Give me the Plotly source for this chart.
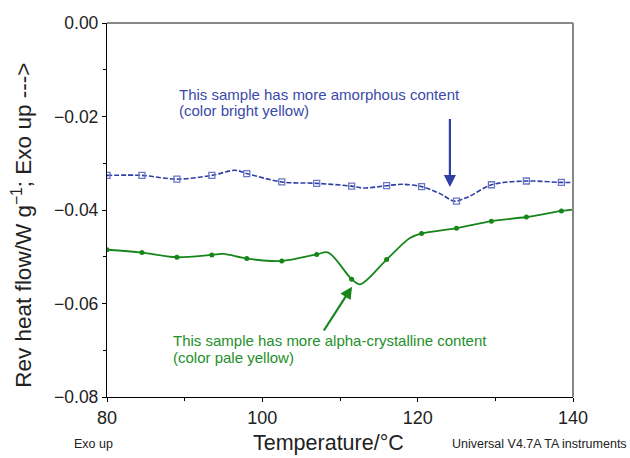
import plotly.graph_objects as go

# Marker temperatures (°C) shared by both scans
marker_temp = [80, 84.5, 89, 93.5, 98, 102.5, 107, 111.5, 116, 120.5, 125, 129.5, 134, 138.5]

# Reversing heat flow (W/g) at the marker temperatures
amorphous_flow = [-0.0326, -0.0326, -0.0334, -0.0326, -0.0322, -0.0340, -0.0343,
                  -0.0349, -0.0348, -0.0350, -0.0381, -0.0346, -0.0338, -0.0341]
crystalline_flow = [-0.0485, -0.0491, -0.0501, -0.0496, -0.0504, -0.0509, -0.0495,
                    -0.0548, -0.0506, -0.0450, -0.0439, -0.0424, -0.0415, -0.0402]

# Full traces (markers plus turning points of each curve)
amorphous_trace_t = [80, 84.5, 89, 93.5, 96.5, 98, 102.5, 107, 111.5, 113, 116, 118,
                     120.5, 123, 124.7, 126.5, 129.5, 134, 138.5, 140]
amorphous_trace_f = [-0.0326, -0.0326, -0.0334, -0.0326, -0.0315, -0.0322, -0.0340,
                     -0.0343, -0.0349, -0.0353, -0.0348, -0.0345, -0.0350, -0.0366,
                     -0.0381, -0.0372, -0.0346, -0.0338, -0.0341, -0.0341]
crystalline_trace_t = [80, 84.5, 89, 93.5, 95, 98, 102.5, 107, 108.5, 111.5, 112.6,
                       116, 119, 120.5, 125, 129.5, 134, 138.5, 140]
crystalline_trace_f = [-0.0485, -0.0491, -0.0501, -0.0496, -0.0494, -0.0504, -0.0509,
                       -0.0495, -0.0491, -0.0548, -0.0559, -0.0506, -0.0460, -0.0450,
                       -0.0439, -0.0424, -0.0415, -0.0402, -0.0399]

x_ticks = [80, 100, 120, 140]
y_ticks = [0.00, -0.02, -0.04, -0.06, -0.08]

BLUE = "#2f3fa3"
BLUE_MARK = "#6b78c8"
GREEN = "#17861a"
FONT = "Liberation Sans, Arial, sans-serif"


def note(x, y, text, color):
    return dict(x=x, y=y, xref="x", yref="y", xanchor="left", yanchor="middle",
                align="left", showarrow=False, text=text,
                font=dict(family=FONT, size=15, color=color))


def arrow(x, y, ax, ay, color):
    return dict(x=x, y=y, ax=ax, ay=ay, xref="x", yref="y", axref="x", ayref="y",
                showarrow=True, arrowhead=2, arrowsize=1.1, arrowwidth=2.2,
                arrowcolor=color, text="")


fig = go.Figure()

fig.add_trace(go.Scatter(x=amorphous_trace_t, y=amorphous_trace_f, mode="lines",
                         line=dict(color=BLUE, width=1.6, dash="5px,2px", shape="spline",
                                   smoothing=0.9),
                         hoverinfo="skip"))
fig.add_trace(go.Scatter(x=marker_temp, y=amorphous_flow, mode="markers",
                         marker=dict(symbol="square-open", size=6, color=BLUE_MARK,
                                     line=dict(width=1.3))))
fig.add_trace(go.Scatter(x=crystalline_trace_t, y=crystalline_trace_f, mode="lines",
                         line=dict(color=GREEN, width=1.8, shape="spline", smoothing=0.9),
                         hoverinfo="skip"))
fig.add_trace(go.Scatter(x=marker_temp, y=crystalline_flow, mode="markers",
                         marker=dict(symbol="circle", size=5, color=GREEN)))

annotations = [
    note(89.0, -0.01524, "This sample has more amorphous content", "#3a4aaa"),
    note(89.0, -0.01881, "(color bright yellow)", "#3a4aaa"),
    arrow(124.15, -0.0351, 124.15, -0.0202, BLUE),
    note(88.2, -0.06802, "This sample has more alpha-crystalline content", "#23902a"),
    note(88.2, -0.07159, "(color pale yellow)", "#23902a"),
    arrow(111.55, -0.0564, 107.8, -0.0661, GREEN),
    dict(x=0.476, y=-0.123, xref="paper", yref="paper", showarrow=False,
         text="Temperature/°C", xanchor="center", yanchor="middle",
         font=dict(family=FONT, size=21.5, color="#222")),
    dict(x=-0.075, y=-0.125, xref="paper", yref="paper", showarrow=False,
         text="Exo up", xanchor="left", yanchor="middle",
         font=dict(family=FONT, size=12.5, color="#222")),
    dict(x=1.12, y=-0.125, xref="paper", yref="paper", showarrow=False,
         text="Universal V4.7A TA instruments", xanchor="right", yanchor="middle",
         font=dict(family=FONT, size=12.5, color="#222")),
    dict(x=-0.183, y=0.46, xref="paper", yref="paper", showarrow=False,
         text="Rev heat flow/W g<sup>−1</sup>; Exo up --->", textangle=-90,
         xanchor="center", yanchor="middle",
         font=dict(family=FONT, size=22.5, color="#222")),
]

fig.update_layout(
    width=630, height=458,
    margin=dict(l=107, r=57, t=23, b=61),
    paper_bgcolor="white", plot_bgcolor="white",
    showlegend=False,
    font=dict(family=FONT, color="#222"),
    annotations=annotations,
    shapes=[
        dict(type="line", xref="paper", yref="paper", x0=0, x1=1, y0=1, y1=1,
             line=dict(color="#888", width=2)),
        dict(type="line", xref="paper", yref="paper", x0=1, x1=1, y0=0, y1=1,
             line=dict(color="#888", width=2)),
    ],
)

fig.update_xaxes(range=[80, 140], tickvals=x_ticks, ticktext=[str(t) for t in x_ticks],
                 showgrid=False, zeroline=False, showline=True, linecolor="black",
                 linewidth=1.3, ticks="outside", ticklen=4, tickcolor="black",
                 tickfont=dict(family=FONT, size=18, color="#222"),
                 minor=dict(tickvals=[90, 110, 130], ticks="outside", ticklen=3,
                            tickcolor="black"))
fig.update_yaxes(range=[-0.08, 0.0], tickvals=y_ticks, tickformat=".2f",
                 showgrid=False, zeroline=False, showline=True, linecolor="black",
                 linewidth=1.3, ticks="outside", ticklen=4, tickcolor="black",
                 tickfont=dict(family=FONT, size=17.5, color="#222"),
                 minor=dict(tickvals=[-0.01, -0.03, -0.05, -0.07], ticks="outside",
                            ticklen=3, tickcolor="black"))

fig.write_html("out.html")
